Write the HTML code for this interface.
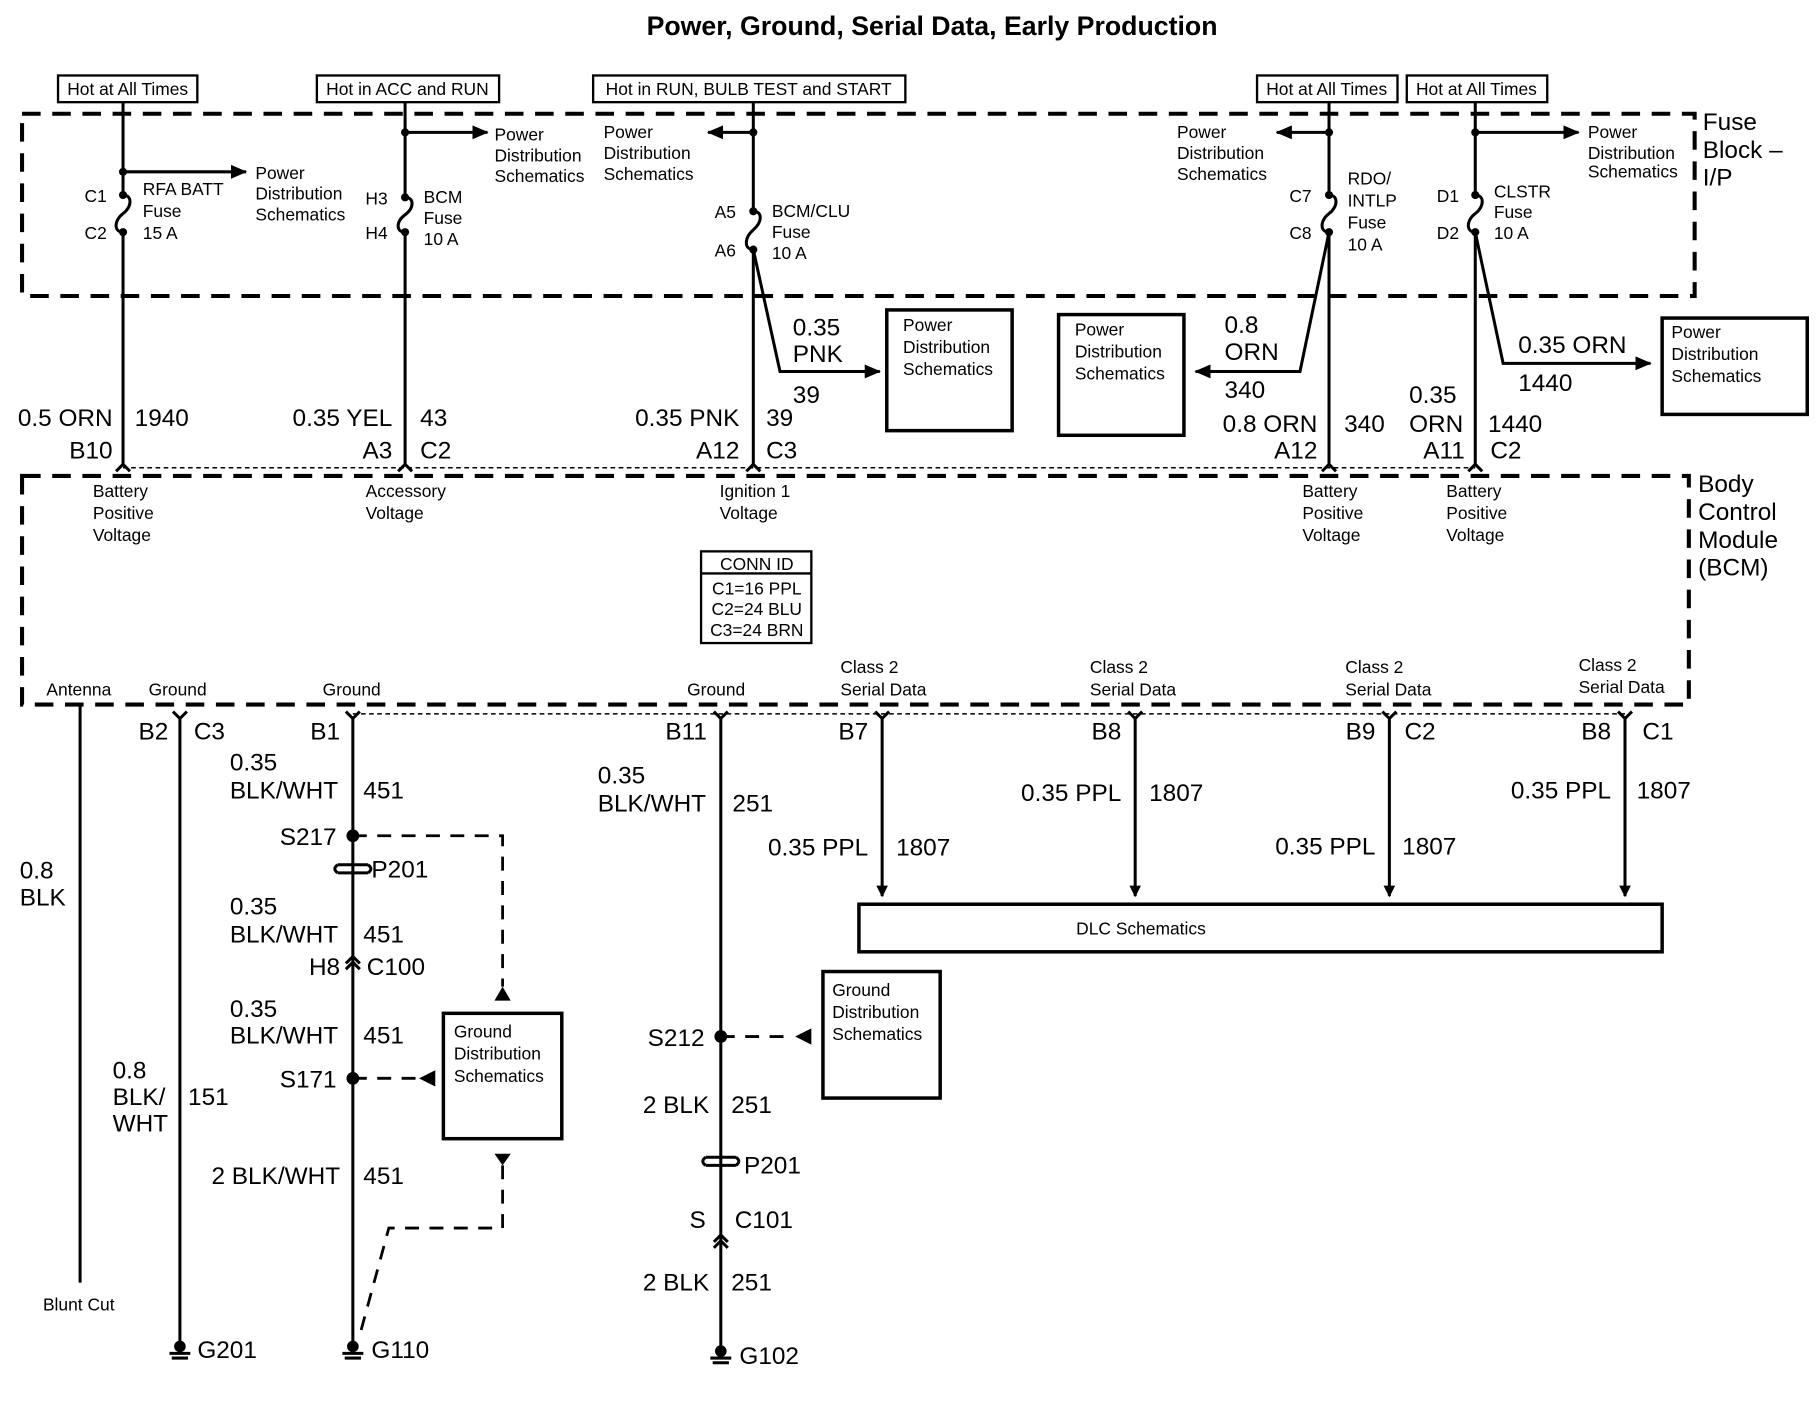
<!DOCTYPE html>
<html><head><meta charset="utf-8"><style>
html,body{margin:0;padding:0;background:#fff}
svg{display:block}
text{font-family:"Liberation Sans",Arial,sans-serif;fill:#000}
.L{font-size:21px}
.S{font-size:15px}
.T{font-size:23px;font-weight:bold}
.e{text-anchor:end}
.m{text-anchor:middle}
.w{stroke:#000;stroke-width:2.6;fill:none}
.d{stroke:#000;stroke-width:3.5;fill:none;stroke-dasharray:16 10}
.dd{stroke:#000;stroke-width:2.4;fill:none;stroke-dasharray:12 9}
.dot{stroke:#000;stroke-width:1.3;fill:none;stroke-dasharray:4 3}
.b{stroke:#000;stroke-width:3;fill:#fff}
.bx{stroke:#000;stroke-width:2;fill:#fff}
</style></head><body>
<svg width="1820" height="1408" viewBox="0 0 1568 1213" xmlns="http://www.w3.org/2000/svg">
<defs>
<marker id="ar" markerWidth="10" markerHeight="10" refX="9" refY="5" orient="auto" markerUnits="userSpaceOnUse" viewBox="0 0 10 10"><path d="M0,0 L10,5 L0,10 z" fill="#000"/></marker>
<marker id="ar2" markerWidth="14" markerHeight="12" refX="13" refY="6" orient="auto" markerUnits="userSpaceOnUse" viewBox="0 0 14 12"><path d="M0,0 L14,6 L0,12 z" fill="#000"/></marker>
</defs>

<text class="T m" x="803" y="30">Power, Ground, Serial Data, Early Production</text>

<rect class="bx" x="50" y="65" width="120" height="23"/><text class="S m" x="110" y="82">Hot at All Times</text>
<rect class="bx" x="273" y="65" width="157" height="23"/><text class="S m" x="351" y="82">Hot in ACC and RUN</text>
<rect class="bx" x="511" y="65" width="269" height="23"/><text class="S m" x="645" y="82">Hot in RUN, BULB TEST and START</text>
<rect class="bx" x="1083" y="65" width="121" height="23"/><text class="S m" x="1143" y="82">Hot at All Times</text>
<rect class="bx" x="1212" y="65" width="121" height="23"/><text class="S m" x="1272" y="82">Hot at All Times</text>

<rect class="d" x="19" y="98" width="1441" height="157"/>
<text class="L" x="1467" y="112">Fuse</text><text class="L" x="1467" y="136">Block –</text><text class="L" x="1467" y="160">I/P</text>

<path class="w" d="M106,88 V168 M106,200 V400"/>
<path class="w" d="M106,168 c8,0 8,10 0,16 c-8,6 -8,16 0,16"/>
<circle cx="106" cy="148" r="3.5"/><circle cx="106" cy="168" r="3.5"/><circle cx="106" cy="200" r="3.5"/>
<path class="w" d="M106,148 H212" marker-end="url(#ar2)"/>
<text class="S" x="220" y="154">Power</text><text class="S" x="220" y="172">Distribution</text><text class="S" x="220" y="190">Schematics</text>
<text class="S e" x="92" y="174">C1</text><text class="S e" x="92" y="206">C2</text>
<text class="S" x="123" y="168">RFA BATT</text><text class="S" x="123" y="187">Fuse</text><text class="S" x="123" y="206">15 A</text>
<text class="L e" x="97" y="367">0.5 ORN</text><text class="L" x="116" y="367">1940</text>
<text class="L e" x="97" y="395">B10</text>

<path class="w" d="M349,88 V170 M349,200 V400"/>
<path class="w" d="M349,170 c8,0 8,9 0,15 c-8,6 -8,15 0,15"/>
<circle cx="349" cy="114" r="3.5"/><circle cx="349" cy="170" r="3.5"/><circle cx="349" cy="200" r="3.5"/>
<path class="w" d="M349,114 H420" marker-end="url(#ar2)"/>
<text class="S" x="426" y="121">Power</text><text class="S" x="426" y="139">Distribution</text><text class="S" x="426" y="157">Schematics</text>
<text class="S e" x="334" y="176">H3</text><text class="S e" x="334" y="206">H4</text>
<text class="S" x="365" y="175">BCM</text><text class="S" x="365" y="193">Fuse</text><text class="S" x="365" y="211">10 A</text>
<text class="L e" x="338" y="367">0.35 YEL</text><text class="L" x="362" y="367">43</text>
<text class="L e" x="338" y="395">A3</text><text class="L" x="362" y="395">C2</text>

<path class="w" d="M649,88 V182 M649,215 V400"/>
<path class="w" d="M649,182 c8,0 8,9 0,16 c-8,7 -8,17 0,17"/>
<circle cx="649" cy="114" r="3.5"/><circle cx="649" cy="182" r="3.5"/><circle cx="649" cy="215" r="3.5"/>
<path class="w" d="M649,114 H610" marker-end="url(#ar2)"/>
<text class="S" x="520" y="119">Power</text><text class="S" x="520" y="137">Distribution</text><text class="S" x="520" y="155">Schematics</text>
<text class="S e" x="634" y="188">A5</text><text class="S e" x="634" y="221">A6</text>
<text class="S" x="665" y="187">BCM/CLU</text><text class="S" x="665" y="205">Fuse</text><text class="S" x="665" y="223">10 A</text>
<path class="w" d="M649,215 L672,320 H758" marker-end="url(#ar2)"/>
<text class="L" x="683" y="289">0.35</text><text class="L" x="683" y="312">PNK</text><text class="L" x="683" y="347">39</text>
<rect class="b" x="764" y="267" width="108" height="104"/>
<text class="S" x="778" y="285">Power</text><text class="S" x="778" y="304">Distribution</text><text class="S" x="778" y="323">Schematics</text>
<text class="L e" x="637" y="367">0.35 PNK</text><text class="L" x="660" y="367">39</text>
<text class="L e" x="637" y="395">A12</text><text class="L" x="660" y="395">C3</text>

<path class="w" d="M1145,88 V168 M1145,200 V400"/>
<path class="w" d="M1145,168 c8,0 8,10 0,16 c-8,6 -8,16 0,16"/>
<circle cx="1145" cy="114" r="3.5"/><circle cx="1145" cy="168" r="3.5"/><circle cx="1145" cy="200" r="3.5"/>
<path class="w" d="M1145,114 H1100" marker-end="url(#ar2)"/>
<text class="S" x="1014" y="119">Power</text><text class="S" x="1014" y="137">Distribution</text><text class="S" x="1014" y="155">Schematics</text>
<text class="S e" x="1130" y="174">C7</text><text class="S e" x="1130" y="206">C8</text>
<text class="S" x="1161" y="159">RDO/</text><text class="S" x="1161" y="178">INTLP</text><text class="S" x="1161" y="197">Fuse</text><text class="S" x="1161" y="216">10 A</text>
<path class="w" d="M1145,200 L1120,320 H1030" marker-end="url(#ar2)"/>
<text class="L" x="1055" y="287">0.8</text><text class="L" x="1055" y="310">ORN</text><text class="L" x="1055" y="343">340</text>
<rect class="b" x="912" y="271" width="108" height="104"/>
<text class="S" x="926" y="289">Power</text><text class="S" x="926" y="308">Distribution</text><text class="S" x="926" y="327">Schematics</text>
<text class="L e" x="1135" y="372">0.8 ORN</text><text class="L" x="1158" y="372">340</text>
<text class="L e" x="1135" y="395">A12</text>

<path class="w" d="M1271,88 V168 M1271,200 V400"/>
<path class="w" d="M1271,168 c8,0 8,10 0,16 c-8,6 -8,16 0,16"/>
<circle cx="1271" cy="114" r="3.5"/><circle cx="1271" cy="168" r="3.5"/><circle cx="1271" cy="200" r="3.5"/>
<path class="w" d="M1271,114 H1360" marker-end="url(#ar2)"/>
<text class="S" x="1368" y="119">Power</text><text class="S" x="1368" y="137">Distribution</text><text class="S" x="1368" y="153">Schematics</text>
<text class="S e" x="1257" y="174">D1</text><text class="S e" x="1257" y="206">D2</text>
<text class="S" x="1287" y="170">CLSTR</text><text class="S" x="1287" y="188">Fuse</text><text class="S" x="1287" y="206">10 A</text>
<path class="w" d="M1271,200 L1295,313 H1422" marker-end="url(#ar2)"/>
<text class="L" x="1308" y="304">0.35 ORN</text><text class="L" x="1308" y="337">1440</text>
<rect class="b" x="1432" y="274" width="125" height="83"/>
<text class="S" x="1440" y="291">Power</text><text class="S" x="1440" y="310">Distribution</text><text class="S" x="1440" y="329">Schematics</text>
<text class="L" x="1214" y="347">0.35</text>
<text class="L" x="1214" y="372">ORN</text><text class="L" x="1282" y="372">1440</text>
<text class="L e" x="1262" y="395">A11</text><text class="L" x="1284" y="395">C2</text>

<path class="dot" d="M106,403 H1271"/>
<path class="w" d="M100,406 L106,400 L112,406 M343,406 L349,400 L355,406 M643,406 L649,400 L655,406 M1139,406 L1145,400 L1151,406 M1265,406 L1271,400 L1277,406"/>

<rect class="d" x="19" y="410" width="1436" height="197"/>
<text class="L" x="1463" y="424">Body</text><text class="L" x="1463" y="448">Control</text><text class="L" x="1463" y="472">Module</text><text class="L" x="1463" y="496">(BCM)</text>
<text class="S" x="80" y="428">Battery</text><text class="S" x="80" y="447">Positive</text><text class="S" x="80" y="466">Voltage</text>
<text class="S" x="315" y="428">Accessory</text><text class="S" x="315" y="447">Voltage</text>
<text class="S" x="620" y="428">Ignition 1</text><text class="S" x="620" y="447">Voltage</text>
<text class="S" x="1122" y="428">Battery</text><text class="S" x="1122" y="447">Positive</text><text class="S" x="1122" y="466">Voltage</text>
<text class="S" x="1246" y="428">Battery</text><text class="S" x="1246" y="447">Positive</text><text class="S" x="1246" y="466">Voltage</text>
<rect class="bx" x="604" y="475" width="95" height="79"/>
<line x1="604" y1="494" x2="699" y2="494" stroke="#000" stroke-width="2"/>
<text class="S m" x="652" y="491">CONN ID</text>
<text class="S m" x="652" y="512">C1=16 PPL</text><text class="S m" x="652" y="530">C2=24 BLU</text><text class="S m" x="652" y="548">C3=24 BRN</text>
<text class="S" x="40" y="599">Antenna</text><text class="S" x="128" y="599">Ground</text><text class="S" x="278" y="599">Ground</text><text class="S" x="592" y="599">Ground</text>
<text class="S" x="724" y="580">Class 2</text><text class="S" x="724" y="599">Serial Data</text>
<text class="S" x="939" y="580">Class 2</text><text class="S" x="939" y="599">Serial Data</text>
<text class="S" x="1159" y="580">Class 2</text><text class="S" x="1159" y="599">Serial Data</text>
<text class="S" x="1360" y="578">Class 2</text><text class="S" x="1360" y="597">Serial Data</text>

<path class="dot" d="M304,615 H1400"/>
<path class="w" d="M149,613 L155,619 L161,613 M298,613 L304,619 L310,613 M615,613 L621,619 L627,613 M754,613 L760,619 L766,613 M972,613 L978,619 L984,613 M1191,613 L1197,619 L1203,613 M1394,613 L1400,619 L1406,613"/>

<path class="w" d="M69,607 V1105"/>
<text class="S" x="37" y="1129">Blunt Cut</text>
<text class="L" x="17" y="757">0.8</text><text class="L" x="17" y="780">BLK</text>

<path class="w" d="M155,619 V1158"/>
<circle cx="155" cy="1160" r="5"/>
<path class="w" d="M146,1166 H164 M148,1170 H162" stroke-width="2"/>
<text class="L" x="170" y="1170">G201</text>
<text class="L e" x="145" y="637">B2</text><text class="L" x="167" y="637">C3</text>
<text class="L" x="97" y="929">0.8</text><text class="L" x="97" y="952">BLK/</text><text class="L" x="97" y="975">WHT</text><text class="L" x="162" y="952">151</text>

<path class="w" d="M304,619 V1158"/>
<text class="L e" x="293" y="637">B1</text>
<text class="L" x="198" y="664">0.35</text><text class="L" x="198" y="688">BLK/WHT</text><text class="L" x="313" y="688">451</text>
<circle cx="304" cy="720" r="5.5"/>
<text class="L e" x="290" y="728">S217</text>
<path class="dd" d="M304,720 H433 V850"/>
<path d="M426,862 L433,850 L440,862 z"/>
<path class="w" d="M291,745 H317 M291,752 H317" stroke-width="3"/>
<path class="w" d="M291,745 q-5,3.5 0,7 M317,745 q5,3.5 0,7" stroke-width="2.5"/>
<text class="L" x="320" y="756">P201</text>
<text class="L" x="198" y="788">0.35</text><text class="L" x="198" y="812">BLK/WHT</text><text class="L" x="313" y="812">451</text>
<text class="L e" x="293" y="840">H8</text><text class="L" x="316" y="840">C100</text>
<path class="w" d="M298,830 L304,824 L310,830 M298,835 L304,829 L310,835" stroke-width="2"/>
<text class="L" x="198" y="876">0.35</text><text class="L" x="198" y="899">BLK/WHT</text><text class="L" x="313" y="899">451</text>
<circle cx="304" cy="929" r="5.5"/>
<text class="L e" x="290" y="937">S171</text>
<path class="dd" d="M304,929 H362"/>
<path d="M375,922 L361,929 L375,936 z"/>
<rect class="b" x="382" y="873" width="102" height="108"/>
<text class="S" x="391" y="894">Ground</text><text class="S" x="391" y="913">Distribution</text><text class="S" x="391" y="932">Schematics</text>
<path d="M426,994 L440,994 L433,1004 z"/>
<path class="dd" d="M433,1004 V1058 H335 L310,1150"/>
<text class="L e" x="293" y="1020">2 BLK/WHT</text><text class="L" x="313" y="1020">451</text>
<circle cx="304" cy="1160" r="5"/>
<path class="w" d="M295,1166 H313 M297,1170 H311" stroke-width="2"/>
<text class="L" x="320" y="1170">G110</text>

<path class="w" d="M621,619 V1163"/>
<text class="L e" x="609" y="637">B11</text>
<text class="L" x="515" y="675">0.35</text><text class="L" x="515" y="699">BLK/WHT</text><text class="L" x="631" y="699">251</text>
<circle cx="621" cy="893" r="5.5"/>
<text class="L e" x="607" y="901">S212</text>
<path class="dd" d="M621,893 H684"/>
<path d="M699,886 L685,893 L699,900 z"/>
<rect class="b" x="709" y="837" width="101" height="109"/>
<text class="S" x="717" y="858">Ground</text><text class="S" x="717" y="877">Distribution</text><text class="S" x="717" y="896">Schematics</text>
<text class="L e" x="611" y="959">2 BLK</text><text class="L" x="630" y="959">251</text>
<path class="w" d="M608,997 H634 M608,1004 H634" stroke-width="3"/>
<path class="w" d="M608,997 q-5,3.5 0,7 M634,997 q5,3.5 0,7" stroke-width="2.5"/>
<text class="L" x="641" y="1011">P201</text>
<text class="L e" x="608" y="1058">S</text><text class="L" x="633" y="1058">C101</text>
<path class="w" d="M615,1070 L621,1064 L627,1070 M615,1075 L621,1069 L627,1075" stroke-width="2"/>
<text class="L e" x="611" y="1112">2 BLK</text><text class="L" x="630" y="1112">251</text>
<circle cx="621" cy="1164" r="5"/>
<path class="w" d="M612,1170 H630 M614,1174 H628" stroke-width="2"/>
<text class="L" x="637" y="1175">G102</text>

<path class="w" d="M760,619 V772" marker-end="url(#ar)"/>
<text class="L e" x="748" y="637">B7</text>
<text class="L e" x="748" y="737">0.35 PPL</text><text class="L" x="772" y="737">1807</text>
<path class="w" d="M978,619 V772" marker-end="url(#ar)"/>
<text class="L e" x="966" y="637">B8</text>
<text class="L e" x="966" y="690">0.35 PPL</text><text class="L" x="990" y="690">1807</text>
<path class="w" d="M1197,619 V772" marker-end="url(#ar)"/>
<text class="L e" x="1185" y="637">B9</text><text class="L" x="1210" y="637">C2</text>
<text class="L e" x="1185" y="736">0.35 PPL</text><text class="L" x="1208" y="736">1807</text>
<path class="w" d="M1400,619 V772" marker-end="url(#ar)"/>
<text class="L e" x="1388" y="637">B8</text><text class="L" x="1415" y="637">C1</text>
<text class="L e" x="1388" y="688">0.35 PPL</text><text class="L" x="1410" y="688">1807</text>
<rect class="b" x="740" y="779" width="692" height="41"/>
<text class="S m" x="983" y="805">DLC Schematics</text>
</svg>
</body></html>
